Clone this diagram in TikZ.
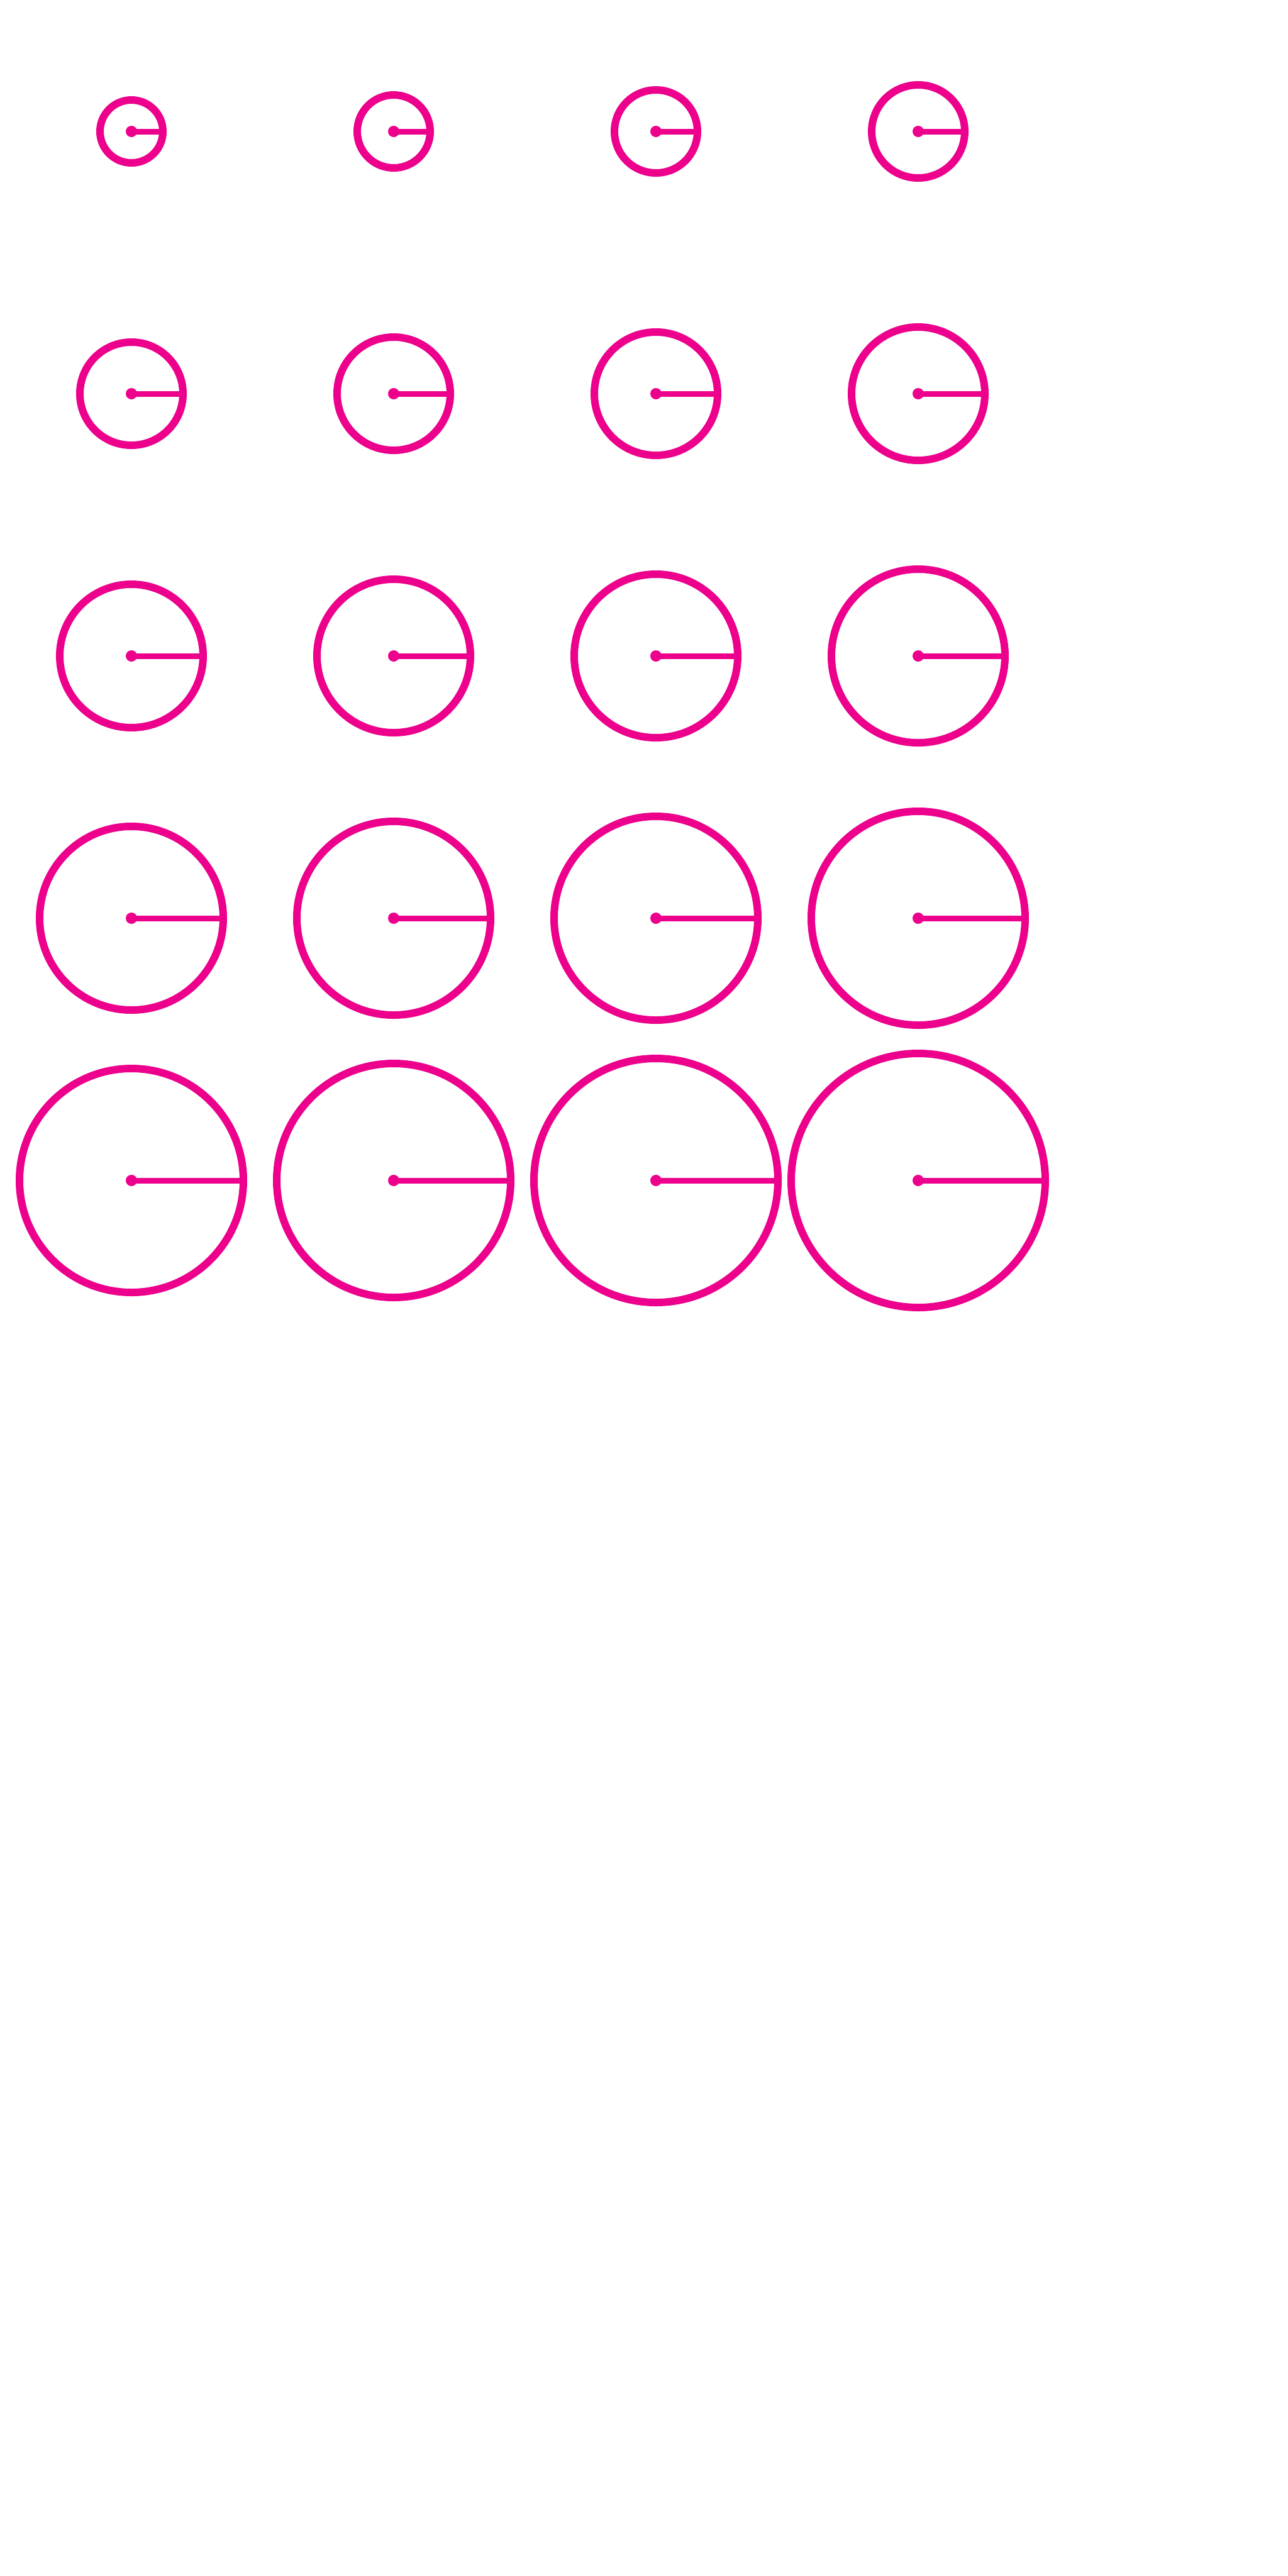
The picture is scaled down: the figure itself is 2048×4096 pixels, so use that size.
\documentclass[tikz,border=0pt]{standalone}
\definecolor{mag}{RGB}{236,0,140}
\tikzset{
  ring/.style={circle, draw=mag, line width=12pt, inner sep=0pt, outer sep=0pt, minimum size=#1},
  spoke/.style={draw=mag, line width=9pt},
  hub/.style={fill=mag}
}
\begin{document}
\begin{tikzpicture}[x=1pt,y=-1pt]
\useasboundingbox[fill=white] (0,0) rectangle (2048,4096);
\foreach \row in {0,...,4}{
  \foreach \col in {0,...,3}{
    \pgfmathsetmacro{\idx}{\row*4+\col}
    \pgfmathsetmacro{\rad}{50+8*\idx}
    \pgfmathsetmacro{\cx}{209+417*\col}
    \pgfmathsetmacro{\cy}{209+417*\row}
    \node[ring=2*\rad pt] (c-\row-\col) at (\cx,\cy) {};
    \draw[spoke] (c-\row-\col.center) -- (c-\row-\col.east);
    \fill[hub] (c-\row-\col.center) circle (9);
  }
}
\end{tikzpicture}
\end{document}
